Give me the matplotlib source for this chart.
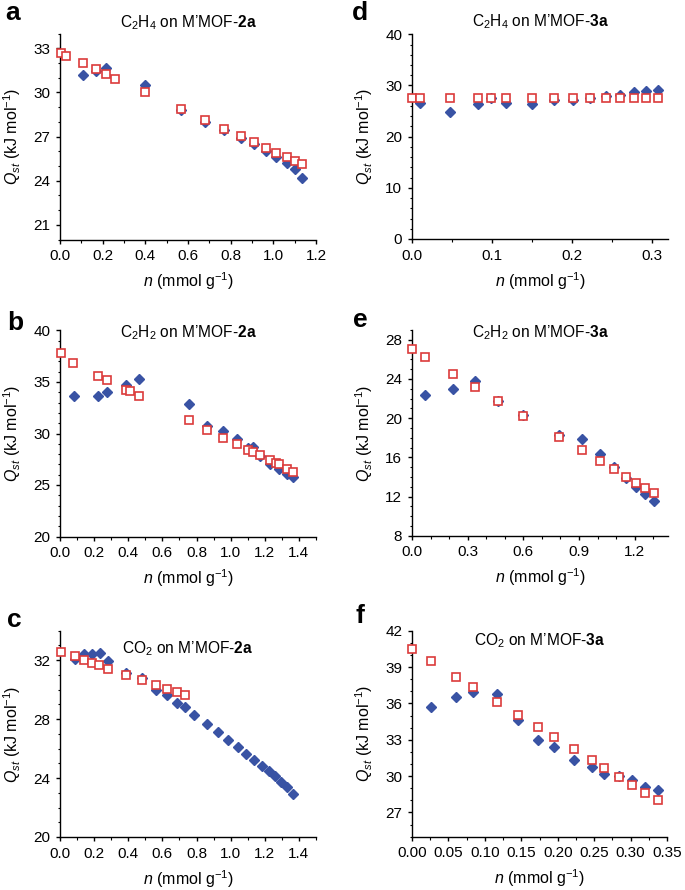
import matplotlib
matplotlib.use("Agg")
import matplotlib.pyplot as plt
from matplotlib.ticker import MultipleLocator, FormatStrFormatter

plt.rcParams["font.family"] = ["Liberation Sans", "DejaVu Sans"]
plt.rcParams["mathtext.fontset"] = "custom"
plt.rcParams["mathtext.rm"] = "Liberation Sans"
plt.rcParams["mathtext.it"] = "Liberation Sans:italic"
plt.rcParams["mathtext.bf"] = "Liberation Sans:bold"

BLUE = "#3953a4"
RED = "#dc3b3b"

# panel a: C2H4 on M'MOF-2a
a_red_n = [0.003, 0.027, 0.11, 0.17, 0.215, 0.26, 0.40, 0.566, 0.678, 0.77, 0.847,
           0.909, 0.964, 1.012, 1.062, 1.10, 1.134]
a_red_q = [32.66, 32.5, 31.98, 31.56, 31.24, 30.92, 30.0, 28.9, 28.15, 27.54, 27.02,
           26.6, 26.23, 25.9, 25.58, 25.33, 25.1]
a_blue_n = [0.11, 0.17, 0.215, 0.40, 0.566, 0.678, 0.77, 0.847, 0.909, 0.964, 1.012,
            1.062, 1.10, 1.134]
a_blue_q = [31.15, 31.42, 31.65, 30.47, 28.78, 27.99, 27.43, 26.91, 26.48, 26.03, 25.62,
            25.17, 24.79, 24.2]

# panel b: C2H2 on M'MOF-2a
b_red_n = [0.004, 0.078, 0.225, 0.277, 0.387, 0.41, 0.465, 0.756, 0.863, 0.957, 1.039,
           1.104, 1.133, 1.172, 1.23, 1.266, 1.285, 1.328, 1.363]
b_red_q = [37.77, 36.83, 35.6, 35.21, 34.24, 34.08, 33.66, 31.33, 30.36, 29.61, 28.96,
           28.41, 28.19, 27.9, 27.44, 27.18, 27.05, 26.6, 26.31]
b_blue_n = [0.082, 0.225, 0.277, 0.387, 0.465, 0.756, 0.863, 0.957, 1.039, 1.104, 1.133,
            1.172, 1.23, 1.285, 1.328, 1.363]
b_blue_q = [33.66, 33.66, 34.05, 34.7, 35.28, 32.85, 30.74, 30.26, 29.45, 28.58, 28.67,
            27.77, 27.06, 26.54, 26.08, 25.76]

# panel c: CO2 on M'MOF-2a
c_red_n = [0.004, 0.088, 0.14, 0.186, 0.23, 0.28, 0.385, 0.482, 0.56, 0.627, 0.684, 0.734]
c_red_q = [32.57, 32.25, 32.02, 31.82, 31.64, 31.43, 31.0, 30.64, 30.32, 30.05, 29.85, 29.65]
c_blue_n = [0.088, 0.14, 0.186, 0.234, 0.283, 0.385, 0.482, 0.56, 0.627, 0.684, 0.734,
            0.785, 0.863, 0.928, 0.986, 1.041, 1.092, 1.139, 1.182, 1.225, 1.26, 1.295,
            1.332, 1.365]
c_blue_q = [32.11, 32.43, 32.45, 32.5, 31.91, 31.14, 30.82, 29.96, 29.65, 29.1, 28.83,
            28.29, 27.68, 27.11, 26.61, 26.14, 25.64, 25.23, 24.85, 24.46, 24.14, 23.76,
            23.37, 22.9]

# panel d: C2H4 on M'MOF-3a
d_red_n = [0.0, 0.0103, 0.048, 0.082, 0.099, 0.117, 0.15, 0.178, 0.201, 0.223, 0.242,
           0.260, 0.278, 0.293, 0.307]
d_red_q = [27.5, 27.5, 27.5, 27.5, 27.5, 27.5, 27.5, 27.5, 27.5, 27.5, 27.5,
           27.5, 27.5, 27.5, 27.5]
d_blue_n = [0.0103, 0.048, 0.082, 0.099, 0.117, 0.15, 0.178, 0.201, 0.223, 0.242, 0.260,
            0.278, 0.293, 0.307]
d_blue_q = [26.5, 24.76, 26.4, 27.6, 26.5, 26.45, 27.2, 27.2, 27.55, 27.9, 28.15,
            28.67, 28.86, 29.19]

# panel e: C2H2 on M'MOF-3a
e_red_n = [0.0, 0.069, 0.222, 0.34, 0.461, 0.6, 0.792, 0.919, 1.016, 1.089, 1.152,
           1.208, 1.257, 1.304]
e_red_q = [27.08, 26.23, 24.5, 23.18, 21.79, 20.22, 18.08, 16.73, 15.6, 14.79, 14.01,
           13.43, 12.89, 12.38]
e_blue_n = [0.069, 0.222, 0.34, 0.461, 0.6, 0.792, 0.919, 1.016, 1.089, 1.152, 1.208,
            1.257, 1.304]
e_blue_q = [22.33, 22.94, 23.76, 21.72, 20.3, 18.32, 17.85, 16.29, 15.03, 13.91, 12.99,
            12.21, 11.53]

# panel f: CO2 on M'MOF-3a
f_red_n = [0.0, 0.026, 0.061, 0.084, 0.117, 0.146, 0.173, 0.195, 0.222, 0.247, 0.264,
           0.284, 0.302, 0.32, 0.337]
f_red_q = [40.46, 39.5, 38.18, 37.33, 36.12, 35.05, 34.03, 33.24, 32.27, 31.31, 30.68,
           29.94, 29.25, 28.57, 27.99]
f_blue_n = [0.026, 0.061, 0.084, 0.117, 0.146, 0.173, 0.195, 0.222, 0.247, 0.264, 0.284,
            0.302, 0.32, 0.337]
f_blue_q = [35.74, 36.53, 36.95, 36.75, 34.64, 32.96, 32.38, 31.29, 30.79, 30.19, 29.97,
            29.69, 29.14, 28.84]

W, H = 685, 890
fig = plt.figure(figsize=(W / 100, H / 100), dpi=100)


def make_axes(left, top, right, bottom):
    return fig.add_axes([left / W, 1 - bottom / H, (right - left) / W, (bottom - top) / H])


panels = [
    # letter, title, box, data, xlim, xmaj, xmin, xfmt, ylim, ymaj, ymin, title y, letter pos
    ("a", r"C$_2$H$_4$ on M’MOF-$\mathbf{2a}$", (60, 33.5, 316, 239.5),
     (a_blue_n, a_blue_q, a_red_n, a_red_q), (0, 1.2), 0.2, 0.1, "%.1f",
     (20, 34), 3, 1, 1.055, (5, 20)),
    ("b", r"C$_2$H$_2$ on M’MOF-$\mathbf{2a}$", (60, 330.5, 316, 536.5),
     (b_blue_n, b_blue_q, b_red_n, b_red_q), (0, 1.5), 0.2, 0.1, "%.1f",
     (20, 40), 5, 1, 0.99, (7, 330)),
    ("c", r"CO$_2$ on M’MOF-$\mathbf{2a}$", (60, 630.7, 316, 837),
     (c_blue_n, c_blue_q, c_red_n, c_red_q), (0, 1.5), 0.2, 0.1, "%.1f",
     (20, 34), 4, 1, 0.915, (7, 627)),
    ("d", r"C$_2$H$_4$ on M’MOF-$\mathbf{3a}$", (412, 34.3, 668, 239),
     (d_blue_n, d_blue_q, d_red_n, d_red_q), (0, 0.32), 0.1, 0.05, "%.1f",
     (0, 40), 10, 2, 1.06, (352, 20)),
    ("e", r"C$_2$H$_2$ on M’MOF-$\mathbf{3a}$", (412, 330, 668, 535.7),
     (e_blue_n, e_blue_q, e_red_n, e_red_q), (0, 1.38), 0.3, 0.1, "%.1f",
     (8, 29), 4, 1, 0.985, (353, 327)),
    ("f", r"CO$_2$ on M’MOF-$\mathbf{3a}$", (412, 630.7, 667, 836.7),
     (f_blue_n, f_blue_q, f_red_n, f_red_q), (0, 0.35), 0.05, 0.025, "%.2f",
     (25, 42), 3, 1, 0.95, (355, 623)),
]

for (letter, title, box, data, xlim, xmaj, xmin, xfmt,
     ylim, ymaj, ymin, ty, lpos) in panels:
    ax = make_axes(*box)
    bn, bq, rn, rq = data
    ax.plot(bn, bq, linestyle="none", marker="D", ms=5.4, color=BLUE,
            mec=BLUE, zorder=3, clip_on=False)
    ax.plot(rn, rq, linestyle="none", marker="s", ms=5.4, mfc="white",
            mec=RED, mew=1.2, zorder=4, clip_on=False)
    ax.set_xlim(*xlim)
    ax.set_ylim(*ylim)
    ax.xaxis.set_major_locator(MultipleLocator(xmaj))
    ax.xaxis.set_minor_locator(MultipleLocator(xmin))
    ax.xaxis.set_major_formatter(FormatStrFormatter(xfmt))
    ax.yaxis.set_major_locator(MultipleLocator(ymaj))
    ax.yaxis.set_minor_locator(MultipleLocator(ymin))
    ax.spines["top"].set_visible(False)
    ax.spines["right"].set_visible(False)
    for s in ("left", "bottom"):
        ax.spines[s].set_linewidth(1.0)
    ax.tick_params(which="major", length=3, width=1.0, labelsize=11, pad=4)
    ax.tick_params(which="minor", length=1.8, width=0.8)
    ax.set_xlabel(r"$n$ (mmol g$^{-1}$)", fontsize=11.5)
    ax.set_ylabel(r"$Q_{st}$ (kJ mol$^{-1}$)", fontsize=11.5)
    ax.yaxis.set_label_coords(-37 / 256, 0.5)
    ax.xaxis.set_label_coords(0.5, -31 / 206)
    ax.text(0.5, ty, title, transform=ax.transAxes, ha="center", va="center",
            fontsize=11.2)
    fig.text(lpos[0] / W, 1 - lpos[1] / H, letter, fontsize=19, fontweight="bold",
             ha="left", va="baseline")

fig.savefig("out.png", dpi=100)
